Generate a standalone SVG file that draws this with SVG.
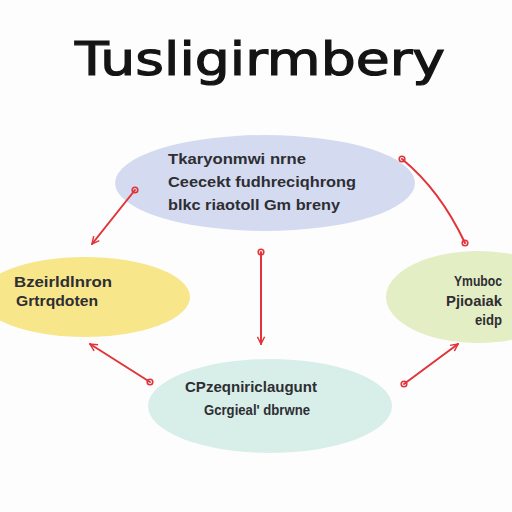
<svg xmlns="http://www.w3.org/2000/svg" width="512" height="512" viewBox="0 0 512 512">
<defs>
<marker id="ah" viewBox="0 0 10 10" refX="9" refY="5" markerWidth="9" markerHeight="9" orient="auto-start-reverse" markerUnits="userSpaceOnUse">
<path d="M1,1 L9,5 L1,9" fill="none" stroke="#e2333a" stroke-width="1.6"/>
</marker>
<marker id="dot" viewBox="0 0 10 10" refX="5" refY="5" markerWidth="8" markerHeight="8" markerUnits="userSpaceOnUse">
<circle cx="5" cy="5" r="3.5" fill="none" stroke="#e2333a" stroke-width="2"/>
</marker>
</defs>
<style>
.lbl{font-family:"Liberation Sans","DejaVu Sans",sans-serif;font-size:15px;fill:#2e2e33;font-weight:bold}
.cn{fill:none;stroke:#e2333a;stroke-width:2;stroke-linecap:round}
</style>
<rect width="512" height="512" fill="#fdfdfd"/>
<text x="260" y="75" text-anchor="middle" font-family="'DejaVu Sans',sans-serif" font-size="46" fill="#141414" stroke="#141414" stroke-width="1.2" textLength="370" lengthAdjust="spacingAndGlyphs">Tusligirmbery</text>
<g id="top">
<ellipse cx="265" cy="183" rx="150" ry="48" fill="#d4dbf1"/>
<text class="lbl" x="168" y="164" textLength="138" lengthAdjust="spacingAndGlyphs">Tkaryonmwi nrne</text>
<text class="lbl" x="168" y="187" textLength="188" lengthAdjust="spacingAndGlyphs">Ceecekt fudhreciqhrong</text>
<text class="lbl" x="168" y="210" textLength="172" lengthAdjust="spacingAndGlyphs">blkc riaotoll Gm breny</text>
</g>
<g id="left">
<ellipse cx="85" cy="297" rx="105" ry="40" fill="#f8e68a"/>
<text class="lbl" x="14" y="287" textLength="98" lengthAdjust="spacingAndGlyphs">Bzeirldlnron</text>
<text class="lbl" x="16" y="306" textLength="82" lengthAdjust="spacingAndGlyphs">Grtrqdoten</text>
</g>
<g id="right">
<ellipse cx="478" cy="297" rx="92" ry="46" fill="#e4eec4"/>
<text class="lbl" x="454" y="286" textLength="48" lengthAdjust="spacingAndGlyphs">Ymuboc</text>
<text class="lbl" x="446" y="306" textLength="56" lengthAdjust="spacingAndGlyphs">Pjioaiak</text>
<text class="lbl" x="475" y="325" textLength="27" lengthAdjust="spacingAndGlyphs">eidp</text>
</g>
<g id="bottom">
<ellipse cx="270" cy="406" rx="122" ry="47" fill="#d8efe9"/>
<text class="lbl" x="185" y="392" textLength="132" lengthAdjust="spacingAndGlyphs">CPzeqniriclaugunt</text>
<text class="lbl" x="204" y="415" textLength="106" lengthAdjust="spacingAndGlyphs">Gcrgieal' dbrwne</text>
</g>
<g id="connectors">
<path class="cn" d="M135,190 L92,244" marker-end="url(#ah)" marker-start="url(#dot)"/>
<path class="cn" d="M402,159 Q440,190 465,243" marker-start="url(#dot)" marker-end="url(#dot)"/>
<path class="cn" d="M261,252 L261,344" marker-start="url(#dot)" marker-end="url(#ah)"/>
<path class="cn" d="M90,344 L150,382" marker-start="url(#ah)" marker-end="url(#dot)"/>
<path class="cn" d="M458,344 L404,384" marker-start="url(#ah)" marker-end="url(#dot)"/>
</g>
</svg>
